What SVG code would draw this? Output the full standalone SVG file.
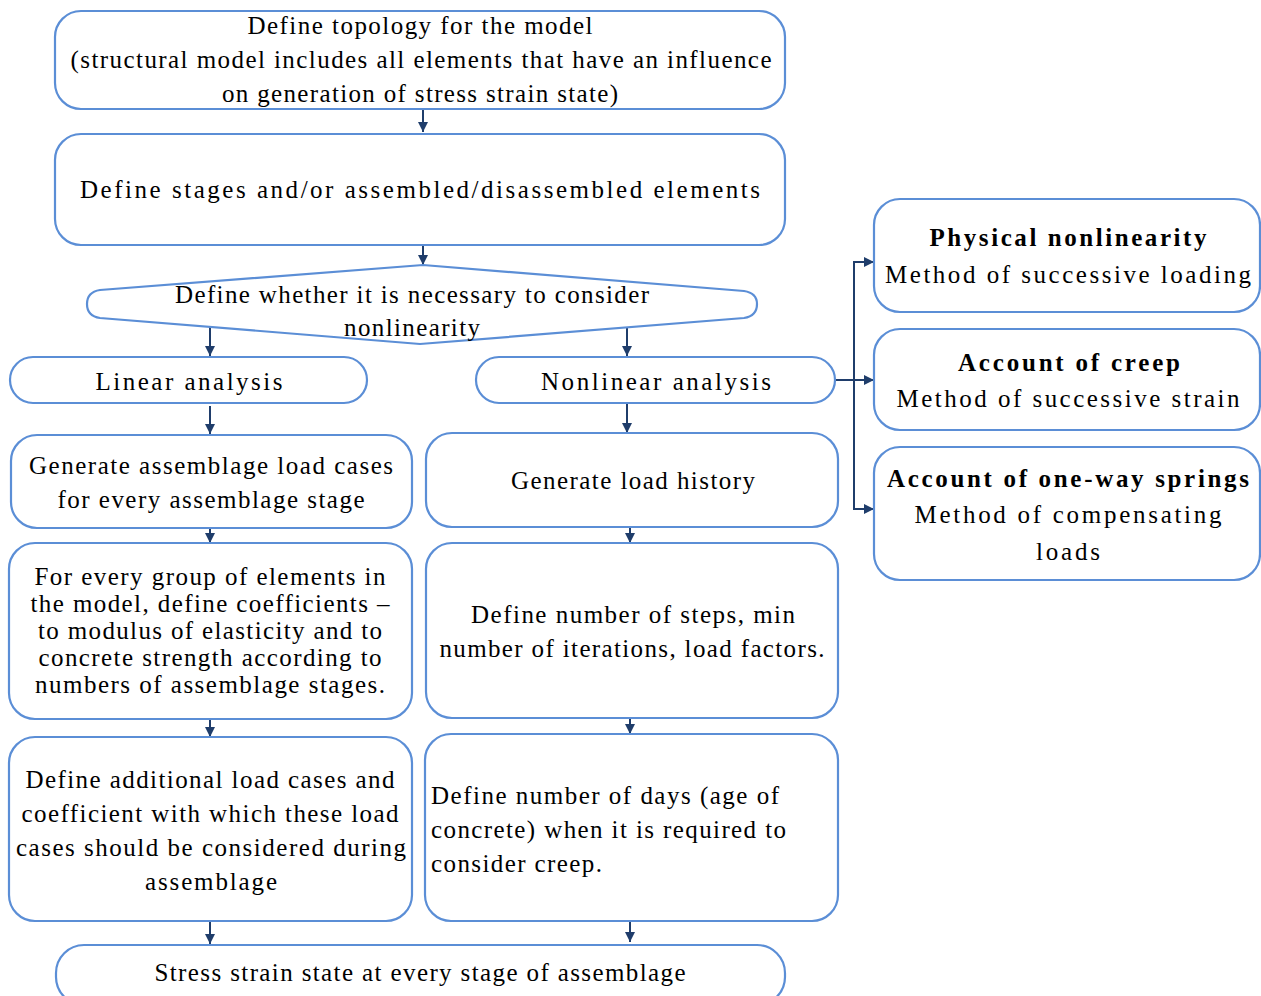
<svg xmlns="http://www.w3.org/2000/svg" width="1261" height="996" viewBox="0 0 1261 996" font-family="Liberation Serif, DejaVu Serif, Times, serif">
<style>
.box{fill:#fff;stroke:#5B8ED6;stroke-width:2.2}
text{font-size:25px;fill:#000;text-anchor:middle}
.l{text-anchor:start}
.b{font-weight:bold}
.c{stroke:#1F3D6B;stroke-width:2;fill:none}
</style>
<defs>
<marker id="ah" viewBox="0 0 10 10" refX="10" refY="5" markerWidth="5.5" markerHeight="5" orient="auto" markerUnits="strokeWidth">
<path d="M0,0 L10,5 L0,10 Z" fill="#1F3D6B"/>
</marker>
</defs>
<rect width="1261" height="996" fill="#fff"/>
<g id="connectors">
<line class="c" x1="423" y1="109" x2="423" y2="132" marker-end="url(#ah)"/>
<line class="c" x1="423" y1="245" x2="423" y2="265" marker-end="url(#ah)"/>
<line class="c" x1="210" y1="327" x2="210" y2="356" marker-end="url(#ah)"/>
<line class="c" x1="627" y1="327" x2="627" y2="356" marker-end="url(#ah)"/>
<line class="c" x1="210" y1="406" x2="210" y2="434" marker-end="url(#ah)"/>
<line class="c" x1="627" y1="404" x2="627" y2="433" marker-end="url(#ah)"/>
<line class="c" x1="210" y1="528" x2="210" y2="543" marker-end="url(#ah)"/>
<line class="c" x1="630" y1="527" x2="630" y2="543" marker-end="url(#ah)"/>
<line class="c" x1="210" y1="719" x2="210" y2="737" marker-end="url(#ah)"/>
<line class="c" x1="630" y1="718" x2="630" y2="734" marker-end="url(#ah)"/>
<line class="c" x1="210" y1="921" x2="210" y2="944" marker-end="url(#ah)"/>
<line class="c" x1="630" y1="921" x2="630" y2="942" marker-end="url(#ah)"/>
<line class="c" x1="835" y1="380" x2="874" y2="380" marker-end="url(#ah)"/>
<polyline class="c" points="874,262 854,262 854,509 874,509"/>
<line class="c" x1="854" y1="262" x2="874" y2="262" marker-end="url(#ah)"/>
<line class="c" x1="854" y1="509" x2="874" y2="509" marker-end="url(#ah)"/>
</g>
<g id="n1"><rect class="box" x="55" y="11" width="730" height="98" rx="26"/>
<text x="420" y="34" textLength="345">Define topology for the model</text>
<text x="421" y="68" textLength="701">(structural model includes all elements that have an influence</text>
<text x="420" y="102" textLength="396">on generation of stress strain state)</text></g>
<g id="n2"><rect class="box" x="55" y="134" width="730" height="111" rx="26"/>
<text x="420" y="198" textLength="680">Define stages and/or assembled/disassembled elements</text></g>
<g id="n3"><path class="box" d="M423,265 L744,291 Q757,293 757,304 Q757,316 744,318 L420,344 L100,318 Q87,316 87,304 Q87,292 100,290 Z"/>
<text x="412" y="303" textLength="474">Define whether it is necessary to consider</text>
<text x="412" y="336" textLength="136">nonlinearity</text></g>
<g id="n4"><rect class="box" x="10" y="357" width="357" height="46" rx="23"/>
<text x="189" y="390" textLength="187">Linear analysis</text></g>
<g id="n5"><rect class="box" x="476" y="357" width="359" height="46" rx="23"/>
<text x="656" y="390" textLength="230">Nonlinear analysis</text></g>
<g id="n6"><rect class="box" x="874" y="199" width="386" height="113" rx="26"/>
<text class="b" x="1068" y="246" textLength="277">Physical nonlinearity</text>
<text x="1068" y="283" textLength="366">Method of successive loading</text></g>
<g id="n7"><rect class="box" x="874" y="329" width="386" height="101" rx="26"/>
<text class="b" x="1069" y="371" textLength="222">Account of creep</text>
<text x="1068" y="407" textLength="343">Method of successive strain</text></g>
<g id="n8"><rect class="box" x="874" y="447" width="386" height="133" rx="26"/>
<text class="b" x="1068" y="487" textLength="362">Account of one-way springs</text>
<text x="1068" y="523" textLength="307">Method of compensating</text>
<text x="1068" y="560" textLength="64">loads</text></g>
<g id="n9"><rect class="box" x="11" y="435" width="401" height="93" rx="26"/>
<text x="211" y="474" textLength="364">Generate assemblage load cases</text>
<text x="211" y="508" textLength="307">for every assemblage stage</text></g>
<g id="n10"><rect class="box" x="426" y="433" width="412" height="94" rx="26"/>
<text x="633" y="489" textLength="244">Generate load history</text></g>
<g id="n11"><rect class="box" x="9" y="543" width="403" height="176" rx="26"/>
<text x="210" y="585" textLength="351">For every group of elements in</text>
<text x="210" y="612" textLength="359">the model, define coefficients –</text>
<text x="210" y="639" textLength="344">to modulus of elasticity and to</text>
<text x="210" y="666" textLength="343">concrete strength according to</text>
<text x="210" y="693" textLength="350">numbers of assemblage stages.</text></g>
<g id="n12"><rect class="box" x="426" y="543" width="412" height="175" rx="26"/>
<text x="633" y="623" textLength="324">Define number of steps, min</text>
<text x="632" y="657" textLength="385">number of iterations, load factors.</text></g>
<g id="n13"><rect class="box" x="9" y="737" width="403" height="184" rx="26"/>
<text x="210" y="788" textLength="369">Define additional load cases and</text>
<text x="210" y="822" textLength="377">coefficient with which these load</text>
<text x="211" y="856" textLength="390">cases should be considered during</text>
<text x="211" y="890" textLength="132">assemblage</text></g>
<g id="n14"><rect class="box" x="425" y="734" width="413" height="187" rx="26"/>
<text class="l" x="431" y="804" textLength="348">Define number of days (age of</text>
<text class="l" x="431" y="838" textLength="355">concrete) when it is required to</text>
<text class="l" x="431" y="872" textLength="171">consider creep.</text></g>
<g id="n15"><rect class="box" x="56" y="945" width="729" height="60" rx="28"/>
<text x="420" y="981" textLength="531">Stress strain state at every stage of assemblage</text></g>
</svg>
